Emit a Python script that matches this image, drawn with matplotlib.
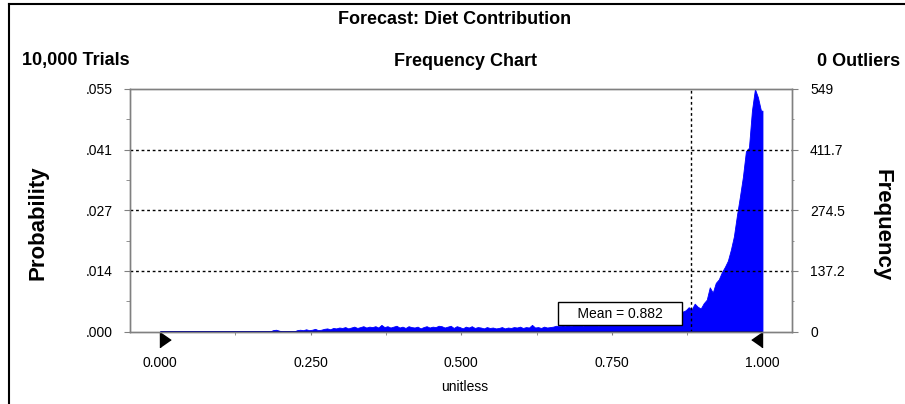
import matplotlib

matplotlib.use("Agg")
import matplotlib.pyplot as plt
import matplotlib.transforms as mtransforms
from matplotlib.lines import Line2D
import numpy as np

plt.rcParams["font.family"] = ["Liberation Sans", "DejaVu Sans"]

# forecast data (Crystal Ball style frequency chart)
trials = 10000
outliers = 0
mean_value = 0.882
range_lo = 0.0
range_hi = 1.0
bin_width = 0.005

# frequency per bin, bins start at 0.000 and step 0.005 (one row = 0.1 of range)
freq = [
    0, 0, 0, 0, 0, 0, 0, 0, 0, 0, 0, 0, 0, 0, 0, 0, 0, 0, 0, 0,
    0, 0, 0, 0, 0, 0, 0, 0, 0, 0, 0, 0, 0, 0, 0, 0, 0, 3, 4, 2,
    0, 0, 0, 0, 0, 3, 4, 3, 5, 3, 4, 6, 3, 4, 6, 7, 5, 8, 7, 9,
    8, 10, 7, 9, 11, 8, 10, 12, 9, 11, 10, 12, 9, 15, 10, 12, 9, 11, 13, 9,
    11, 8, 12, 10, 9, 11, 7, 10, 12, 9, 11, 10, 13, 12, 9, 11, 13, 8, 12, 10,
    7, 11, 9, 12, 8, 10, 9, 7, 10, 8, 9, 7, 8, 10, 7, 9, 8, 10, 9, 11,
    8, 10, 9, 15, 9, 10, 8, 11, 9, 10, 11, 13, 12, 14, 13, 15, 12, 16, 14, 15,
    13, 16, 14, 15, 17, 13, 16, 18, 15, 17, 14, 18, 16, 19, 15, 18, 17, 20, 18, 16,
    19, 18, 21, 19, 20, 22, 21, 24, 23, 28, 35, 40, 38, 45, 48, 55, 50, 63, 56, 52,
    64, 72, 100, 88, 110, 118, 134, 146, 160, 185, 215, 262, 305, 350, 408, 416, 500, 549, 530, 500,
]

freq_ticks = [0, 137.25, 274.5, 411.75, 549]
freq_tick_labels = ["0", "137.2", "274.5", "411.7", "549"]
prob_tick_labels = [".000", ".014", ".027", ".041", ".055"]
x_ticks = [0.0, 0.25, 0.5, 0.75, 1.0]
x_tick_labels = ["0.000", "0.250", "0.500", "0.750", "1.000"]

W, H = 905, 404


def fx(px):
    return px / W


def fy(py):
    return 1 - py / H


fig = plt.figure(figsize=(W / 100, H / 100), dpi=100)
ax = fig.add_axes([fx(130), fy(331.5), fx(662), 242.5 / H])

# filled frequency curve through bin centres, closed at the last bin edge
edges = range_lo + bin_width * np.arange(len(freq) + 1)
centres = (edges[:-1] + edges[1:]) / 2
curve_x = np.concatenate([[edges[0]], centres, [edges[-1]]])
curve_y = np.concatenate([[freq[0]], freq, [freq[-1]]])
ax.fill_between(curve_x, curve_y, color="#0000ff", linewidth=0.6, edgecolor="#0000ff")
ax.hlines(0, edges[0], edges[-1], color="#000080", linewidth=2, zorder=4)

ax.set_xlim(-0.0498, 1.049)
ax.set_ylim(0, 549)

# grid lines and mean line
for t in freq_ticks[1:-1]:
    ax.axhline(t, color="black", linestyle=(0, (2, 2)), linewidth=1, zorder=3)
ax.axvline(mean_value, color="black", linestyle=(0, (2, 2)), linewidth=1, zorder=3)

# spines
for s in ax.spines.values():
    s.set_color("#808080")
    s.set_linewidth(1)

# x axis ticks
ax.set_xticks(x_ticks)
ax.set_xticklabels(x_tick_labels, fontsize=10)
ax.set_xticks([0.125, 0.375, 0.625, 0.875], minor=True)
ax.tick_params(axis="x", which="both", direction="out", length=2.5, color="#808080", pad=15)

# left axis: probability
ax.set_yticks(freq_ticks)
ax.set_yticklabels(prob_tick_labels, fontsize=10)
ax.set_yticks([(a + b) / 2 for a, b in zip(freq_ticks[:-1], freq_ticks[1:])], minor=True)
ax.tick_params(axis="y", which="major", direction="out", length=4.5, color="#808080", pad=8)
ax.tick_params(axis="y", which="minor", direction="out", length=3, color="#808080")

# right axis: frequency
ax2 = ax.twinx()
ax2.set_ylim(0, 549)
ax2.set_yticks(freq_ticks)
ax2.set_yticklabels(freq_tick_labels, fontsize=10)
ax2.set_yticks([(a + b) / 2 for a, b in zip(freq_ticks[:-1], freq_ticks[1:])], minor=True)
ax2.tick_params(axis="y", which="major", direction="out", length=4, color="#808080", pad=9)
ax2.tick_params(axis="y", which="minor", direction="out", length=1.5, color="#808080")
for s in ax2.spines.values():
    s.set_color("#808080")
    s.set_linewidth(1)

# certainty range markers
trans = mtransforms.blended_transform_factory(ax.transData, ax.transAxes)
ax.plot([range_lo], [-0.035], marker=[(0, -0.7), (0, 0.7), (1, 0)], markersize=15.4,
        color="black", transform=trans, clip_on=False)
ax.plot([range_hi], [-0.035], marker=[(0, -0.7), (0, 0.7), (-1, 0)], markersize=15.4,
        color="black", transform=trans, clip_on=False)

# mean label box
ax.annotate(
    f"    Mean = {mean_value:.3f}    ",
    xy=(mean_value, 0.074),
    xycoords=("data", "axes fraction"),
    xytext=(-9.5, 0),
    textcoords="offset points",
    ha="right",
    va="center",
    fontsize=10,
    bbox=dict(boxstyle="square,pad=0.3", facecolor="white", edgecolor="black", linewidth=1),
    zorder=6,
)

# header texts
fig.text(fx(455), fy(19), "Forecast: Diet Contribution", ha="center", va="center",
         fontsize=13, fontweight="bold")
fig.text(fx(22), fy(61), f"{trials:,} Trials", ha="left", va="center",
         fontsize=13, fontweight="bold")
fig.text(fx(465), fy(61), "Frequency Chart", ha="center", va="center",
         fontsize=13, fontweight="bold")
fig.text(fx(900), fy(61), f"{outliers} Outliers", ha="right", va="center",
         fontsize=13, fontweight="bold")

# axis titles
fig.text(fx(38), fy(223), "Probability", rotation=90, ha="center", va="center",
         fontsize=16, fontweight="bold")
fig.text(fx(882), fy(225), "Frequency", rotation=270, ha="center", va="center",
         fontsize=16, fontweight="bold")
fig.text(fx(465), fy(387), "unitless", ha="center", va="center", fontsize=10)

# outer frame lines
fig.add_artist(Line2D([fx(9), fx(9)], [0, fy(3.5)], color="black", linewidth=1.5))
fig.add_artist(Line2D([fx(9), 1], [fy(3.5), fy(3.5)], color="black", linewidth=1.5))

fig.savefig("out.png", dpi=100)
